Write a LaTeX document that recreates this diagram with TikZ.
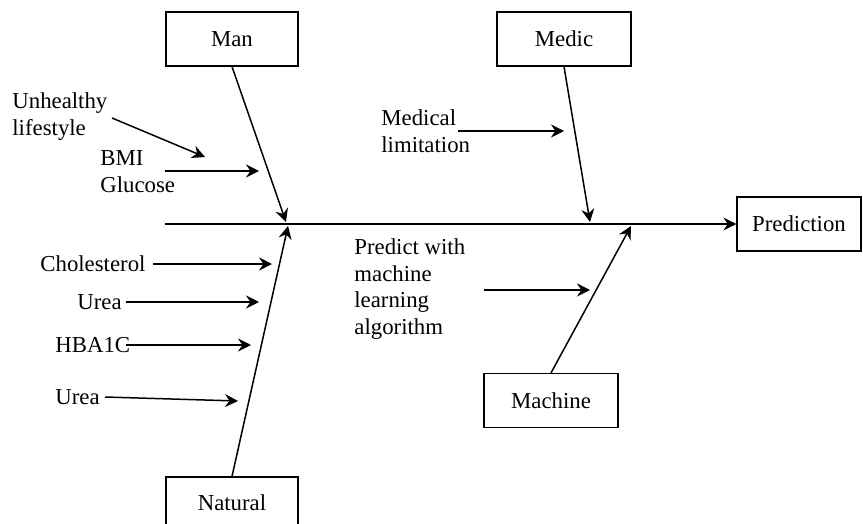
\documentclass[tikz,border=0pt]{standalone}
\usepackage{fontspec}
\setmainfont{Liberation Serif}
\usetikzlibrary{arrows.meta}
\begin{document}
\begin{tikzpicture}[x=0.5pt,y=-0.5pt,
  every node/.style={font=\fontsize{11.4}{13.5}\selectfont},
  box/.style={draw, line width=0.6pt, minimum width=66pt, minimum height=27pt, inner sep=0pt},
  lbl/.style={anchor=west, align=left, inner sep=0pt},
  arr/.style={line width=0.75pt, -{Stealth[length=6.5pt,width=6.5pt,inset=2.2pt]}},
  bone/.style={line width=0.75pt, -{Stealth[length=6.5pt,width=6.5pt,inset=2.2pt]}}]
\clip (0,0) rectangle (863,524);
\fill[white] (0,0) rectangle (863,524);
% boxes
\node[box] (man) at (232,39) {Man};
\node[box, minimum width=67pt] (medic) at (564,39) {Medic};
\node[box, minimum width=62pt] (pred) at (799,224) {Prediction};
\node[box, minimum width=67pt] (machine) at (551,400.5) {Machine};
\node[box, minimum height=26pt] (natural) at (232,503) {Natural};
% spine
\coordinate (s0) at (165,224);
\draw[arr] (s0) -- (pred.west);
% main bones
\coordinate (m1) at (286,222);
\coordinate (n1) at (288,226);
\coordinate (d1) at (590,222);
\coordinate (c1) at (631,226);
\draw[bone] (man.south) -- (m1);
\draw[bone] (natural.north) -- (n1);
\draw[bone] (medic.south) -- (d1);
\draw[bone] (machine.north) -- (c1);
% labels
\node[lbl] (ul) at (12,117) {Unhealthy\\lifestyle};
\node[lbl] (bg) at (100,172) {BMI\\Glucose};
\node[lbl] (ml) at (381,131) {Medical\\limitation};
\node[lbl] (ch) at (40,264) {Cholesterol};
\node[lbl] (u1) at (77,302) {Urea};
\node[lbl] (hb) at (55,345) {HBA1C};
\node[lbl] (u2) at (55,397) {Urea};
\node[lbl, font=\fontsize{11.4}{13.35}\selectfont] (pw) at (354,289) {Predict with\\machine\\learning\\algorithm};
% side arrows
\coordinate (ula) at (112,118); \coordinate (ulb) at (205,157);
\coordinate (bga) at (165,171); \coordinate (bgb) at (259,171);
\coordinate (mla) at (458,131); \coordinate (mlb) at (564,131);
\coordinate (cha) at (153,264); \coordinate (chb) at (272,264);
\coordinate (u1a) at (126,302); \coordinate (u1b) at (259,302);
\coordinate (hba) at (126,345); \coordinate (hbb) at (251,345);
\coordinate (u2a) at (105,397); \coordinate (u2b) at (238,401);
\coordinate (pwa) at (484,290); \coordinate (pwb) at (590,290);
\draw[arr] (ula) -- (ulb);
\draw[arr] (bga) -- (bgb);
\draw[arr] (mla) -- (mlb);
\draw[arr] (cha) -- (chb);
\draw[arr] (u1a) -- (u1b);
\draw[arr] (hba) -- (hbb);
\draw[arr] (u2a) -- (u2b);
\draw[arr] (pwa) -- (pwb);
\end{tikzpicture}
\end{document}
